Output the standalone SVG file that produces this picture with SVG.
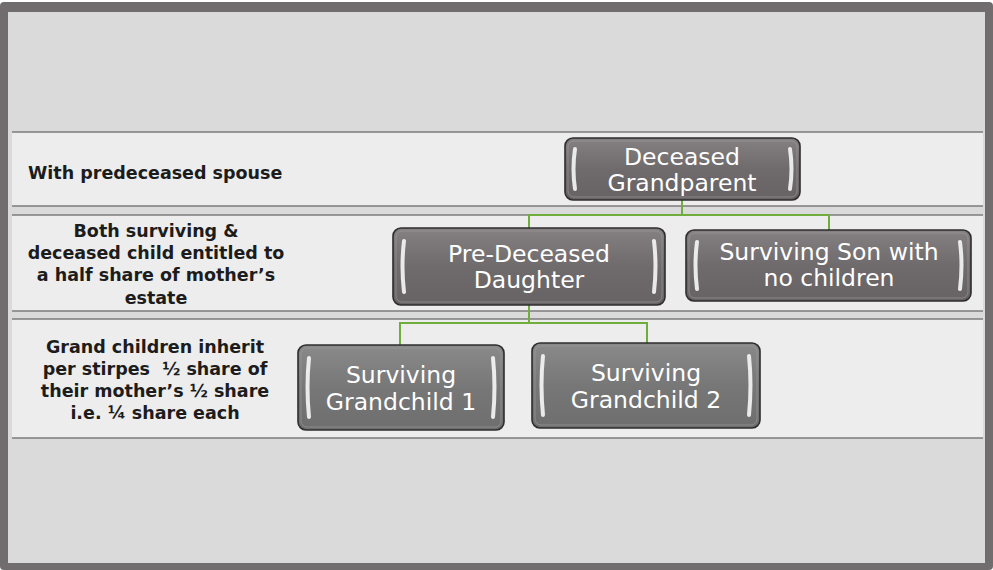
<svg xmlns="http://www.w3.org/2000/svg" width="993" height="570" viewBox="0 0 993 570">
<style>
.band{fill:#ededed}
.bl{stroke:#7d7a7b;stroke-width:1.5}
.lbl{font-family:"DejaVu Sans",Verdana,sans-serif;font-weight:bold;font-size:17.5px;fill:#1c1c1c;white-space:pre}
.nt{font-family:"DejaVu Sans",Verdana,sans-serif;font-size:23.5px;fill:#ffffff;text-anchor:middle}
.box{fill:url(#gb);stroke:#2f2d2e;stroke-width:1.6}
.box2{fill:url(#gb2);stroke:#2f2d2e;stroke-width:1.6}
.bev{fill:none;stroke:#a09c9d;stroke-width:1;opacity:.6}
.hl{fill:none;stroke:#f4f4f4;stroke-width:4;stroke-linecap:round;opacity:.92}
.con{fill:none;stroke:#6fae3c;stroke-width:2}
</style>
<defs>
<linearGradient id="gb" x1="0" y1="0" x2="0" y2="1">
<stop offset="0" stop-color="#858182"/>
<stop offset="0.5" stop-color="#6f6b6c"/>
<stop offset="1" stop-color="#676364"/>
</linearGradient>
<linearGradient id="gb2" x1="0" y1="0" x2="0" y2="1">
<stop offset="0" stop-color="#8a8a8a"/>
<stop offset="0.5" stop-color="#777777"/>
<stop offset="1" stop-color="#6e6e6e"/>
</linearGradient>
</defs>
<g id="frame">
<rect x="0" y="2" width="993" height="568" rx="4" fill="#716c6d"/>
<rect x="8" y="12" width="977" height="551" fill="#dadada"/>
</g>
<g id="bands">
<rect class="band" x="12" y="132" width="971" height="74"/>
<line class="bl" x1="12" y1="132" x2="983" y2="132"/>
<line class="bl" x1="12" y1="206" x2="983" y2="206"/>
<rect class="band" x="12" y="215" width="971" height="96"/>
<line class="bl" x1="12" y1="215" x2="983" y2="215"/>
<line class="bl" x1="12" y1="311" x2="983" y2="311"/>
<rect class="band" x="12" y="319" width="971" height="119"/>
<line class="bl" x1="12" y1="319" x2="983" y2="319"/>
<line class="bl" x1="12" y1="438" x2="983" y2="438"/>
</g>
<g id="labels">
<text class="lbl" x="28" y="179">With predeceased spouse</text>
<text class="lbl" text-anchor="middle" x="156" y="237">Both surviving &amp;</text>
<text class="lbl" text-anchor="middle" x="156" y="259">deceased child entitled to</text>
<text class="lbl" text-anchor="middle" x="156" y="281">a half share of mother’s</text>
<text class="lbl" text-anchor="middle" x="156" y="304">estate</text>
<text class="lbl" text-anchor="middle" x="155" y="353">Grand children inherit</text>
<text class="lbl" text-anchor="middle" x="155" y="375" xml:space="preserve">per stirpes  ½ share of</text>
<text class="lbl" text-anchor="middle" x="155" y="397">their mother’s ½ share</text>
<text class="lbl" text-anchor="middle" x="155" y="419">i.e. ¼ share each</text>
</g>
<g id="connectors">
<polyline class="con" points="682,200 682,215"/>
<polyline class="con" points="529,228 529,215 829,215 829,230"/>
<polyline class="con" points="529,305 529,323"/>
<polyline class="con" points="400,345 400,323 647,323 647,343"/>
</g>
<g id="n-grandparent">
<rect class="box" x="565" y="138" width="235" height="62" rx="8"/>
<rect class="bev" x="568" y="141" width="229" height="56" rx="6"/>
<path class="hl" d="M575,149 Q572,169 575,189"/>
<path class="hl" d="M790,149 Q793,169 790,189"/>
<text class="nt" x="682" y="165">Deceased</text>
<text class="nt" x="682" y="191">Grandparent</text>
</g>
<g id="n-daughter">
<rect class="box" x="393" y="228" width="272" height="77" rx="8"/>
<rect class="bev" x="396" y="231" width="266" height="71" rx="6"/>
<path class="hl" d="M404,241 Q401,266 404,292"/>
<path class="hl" d="M654,241 Q657,266 654,292"/>
<text class="nt" x="529" y="262">Pre-Deceased</text>
<text class="nt" x="529" y="288">Daughter</text>
</g>
<g id="n-son">
<rect class="box" x="686" y="230" width="285" height="71" rx="8"/>
<rect class="bev" x="689" y="233" width="279" height="65" rx="6"/>
<path class="hl" d="M697,242 Q694,265 697,289"/>
<path class="hl" d="M960,242 Q963,265 960,289"/>
<text class="nt" x="829" y="260">Surviving Son with</text>
<text class="nt" x="829" y="286">no children</text>
</g>
<g id="n-gc1">
<rect class="box2" x="298" y="345" width="206" height="85" rx="8"/>
<rect class="bev" x="301" y="348" width="200" height="79" rx="6"/>
<path class="hl" d="M309,358 Q306,387 309,417"/>
<path class="hl" d="M493,358 Q496,387 493,417"/>
<text class="nt" x="401" y="383">Surviving</text>
<text class="nt" x="401" y="410">Grandchild 1</text>
</g>
<g id="n-gc2">
<rect class="box2" x="532" y="343" width="228" height="85" rx="8"/>
<rect class="bev" x="535" y="346" width="222" height="79" rx="6"/>
<path class="hl" d="M543,356 Q540,385 543,415"/>
<path class="hl" d="M749,356 Q752,385 749,415"/>
<text class="nt" x="646" y="381">Surviving</text>
<text class="nt" x="646" y="408">Grandchild 2</text>
</g>
</svg>
